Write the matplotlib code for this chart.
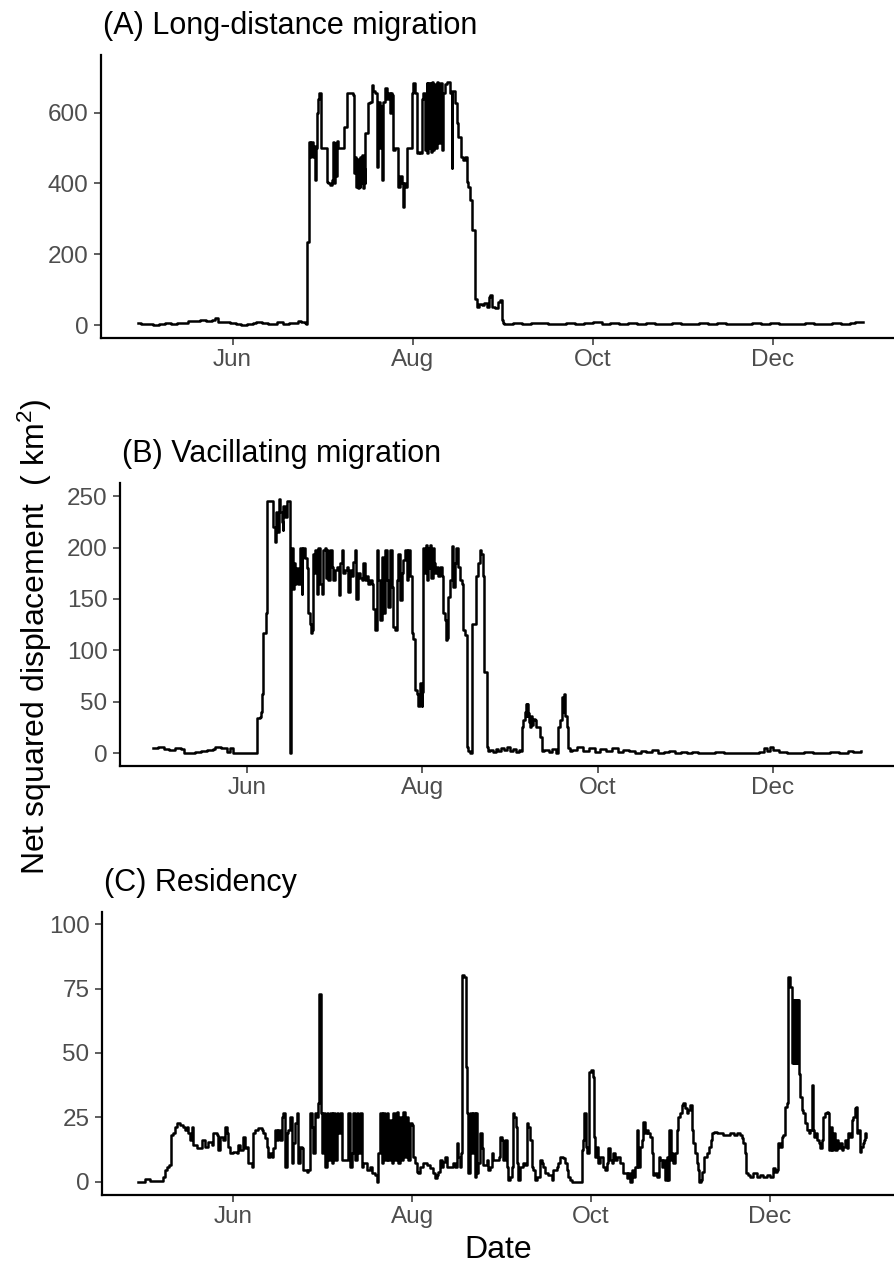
import numpy as np
import matplotlib
matplotlib.use("Agg")
import matplotlib.pyplot as plt
import matplotlib.dates as mdates

plt.rcParams['font.family'] = ['Liberation Sans', 'DejaVu Sans']
plt.rcParams['mathtext.fontset'] = 'custom'
plt.rcParams['mathtext.rm'] = 'Liberation Sans'
plt.rcParams['mathtext.default'] = 'regular'

# ---------------- data (days since 1 June, value in km^2) ----------------
a_days = [-32, -31, -29, -27, -25, -23, -21, -19, -17, -15, -13, -11, -9, -7, -6, -5, -3, -1, 1, 3, 5, 7, 8, 10, 12, 14, 15, 17, 19, 21, 22, 23, 24.5, 25.0,
          25.1, 25.8, 25.9, 26.3, 26.7, 27.1, 27.5, 27.9, 28.1, 28.5, 29.0, 29.4, 29.6, 29.9, 30.6, 31.3, 31.8, 32.4, 33.0, 33.5, 34.1, 34.4, 34.7, 35.0, 35.2,
          35.8, 36.9, 37.8, 38.6, 39.2, 40.9, 41.2, 41.5, 41.8, 42.1, 42.4, 42.7, 43.0, 43.3, 43.6, 43.9, 44.2, 44.5, 44.8, 45.0, 45.7, 46.5, 47.1, 47.5,
          48.2, 48.8, 49.1, 49.4, 49.8, 50.1, 50.5, 50.8, 51.0, 51.6, 52.2, 52.7, 53.2, 53.5, 53.9, 54.4, 55.0, 55.6, 56.1, 56.7, 57.3, 57.8, 58.1, 58.4,
          59.0, 60.1, 60.6, 61.2, 61.8, 62.3, 63.0, 63.5, 64.0, 64.6, 65.2, 65.7, 66.0, 66.3, 66.6, 66.9, 67.2, 67.5, 67.8, 68.1, 68.5, 69.1, 69.7, 70.2,
          70.8, 71.4, 72.0, 72.5, 73.1, 73.6, 74.2, 74.4, 75.3, 75.9, 76.5, 77.3, 78.2, 78.7, 79.3, 79.8, 80.4, 81.0, 81.2, 82.0, 82.1, 82.7, 83.5, 84.4,
          85.3, 86.1, 86.7, 87.2, 87.8, 88.9, 90.0, 90.6, 91.1, 91.7,
          92, 95, 98, 101, 104, 107, 110, 113, 116, 119, 122, 125, 128, 131, 134, 137, 140, 143, 146, 149, 152, 155, 158, 161, 164, 167, 170, 173, 176,
          179, 182, 185, 188, 191, 194, 197, 200, 203, 206, 209, 211, 213.5]
a_vals = [6, 4, 2, 1, 3, 5, 4, 6, 5, 11, 12, 13, 12, 15, 20, 10, 8, 6, 3, 0, 2, 6, 10, 5, 2, 4, 9, 3, 5, 6, 12, 9, 5, 3,
          235, 287, 518, 476, 518, 476, 505, 410, 500, 598, 640, 655, 655, 500, 500, 500, 405, 400, 395, 410, 518, 400, 515, 420, 520,
          500, 500, 560, 655, 655, 650, 429, 476, 391, 470, 386, 460, 390, 476, 400, 480, 386, 440, 400, 542, 626, 631, 678, 660,
          655, 447, 600, 631, 500, 620, 410, 600, 631, 669, 640, 655, 600, 655, 650, 495, 500, 500, 391, 420, 400, 334, 400, 391,
          500, 500, 655, 683, 655, 485, 490, 485, 640, 655, 495, 683, 485, 683, 500, 685, 490, 688, 495, 680, 500, 688, 513, 683,
          495, 655, 680, 688, 688, 655, 443, 660, 626, 570, 532, 476, 466, 476, 405, 391, 353, 353, 269, 269, 75, 52, 60, 56,
          62, 52, 80, 85, 52, 47, 65, 71, 14, 5,
          3, 6, 2, 5, 7, 3, 4, 6, 2, 5, 8, 4, 6, 3, 5, 2, 6, 4, 3, 5, 2, 4, 6, 3, 5, 2, 4, 3, 6,
          2, 5, 3, 4, 2, 5, 3, 4, 6, 3, 5, 8, 10]

b_days = [-32.6, -31, -29, -27, -25, -23, -22, -20, -18, -16, -14, -12, -11, -9, -7, -6, -5, -4.8, 3.0, 3.4, 3.5, 4.5, 5.0, 5.1, 5.6, 5.7, 6.6, 6.8,
          7.8, 8.8, 9.2, 9.6, 10.0, 10.3, 11.2, 11.6, 12.1, 12.4, 12.6, 13.2, 13.8, 14.4, 15.0, 15.2,
          15.5, 16.0, 16.3, 16.7, 17.2, 17.9, 18.4, 19.0, 19.3, 19.6, 20.2, 20.8, 21.3, 21.9, 22.2, 22.5, 22.9, 23.3, 23.7, 24.2, 24.8, 25.4, 26.0,
          26.6, 27.1, 27.4, 27.7, 28.3, 28.9, 29.5, 30.0, 30.6, 31.2, 32.0, 32.4, 32.9, 33.5, 34.1, 34.7, 35.3, 35.8, 36.4, 37.0, 37.6, 37.9, 38.7,
          39.3, 39.9, 40.5, 41.1, 41.6, 42.2, 42.8, 43.4, 44.0, 44.5, 45.1, 45.7, 46.3, 46.9, 47.4, 48.0, 48.6, 49.2, 49.8, 50.3, 50.9, 51.5, 52.1,
          52.7, 53.2, 53.8, 54.4, 55.0, 55.6, 56.1, 56.7, 57.3, 57.9, 58.5, 59.0, 59.6, 60.2, 60.8, 61.0, 61.4,
          61.8, 62.2, 62.6, 63.0, 63.4, 63.8, 64.2, 64.6, 65.0, 65.5, 66.0, 66.5, 67.2, 67.7, 68.3, 68.9, 69.2, 69.7, 70.0, 70.6, 71.2, 71.8, 72.4,
          72.9, 73.5, 74.1, 74.7, 75.3, 75.8, 76.4, 77.0, 77.6, 78.2, 78.4, 79.3, 79.7, 80.5, 81.1, 81.6, 82.2, 82.4, 83.2, 83.4, 84.0,
          84.5, 85.5, 86.5, 87.5, 88.5, 89.5, 90.5, 91.5, 92.5, 93.5, 94.5, 95.0, 95.6, 96.1, 96.7, 97.0, 97.3, 97.6, 97.9, 98.2, 98.5, 99.0, 99.3,
          99.6, 100.2, 100.5, 100.8, 101.9, 102.5, 103.5, 105, 106, 107.7, 108.3, 108.9, 109.5, 110.0, 110.3, 110.6, 111.2, 111.8, 112.5,
          113, 115, 117, 119, 121, 123, 125, 127, 129, 131, 133, 135, 137, 139, 141, 143, 145, 147, 149, 151, 153, 155, 157, 160, 163, 166, 169,
          172, 175, 178, 180, 181, 182, 183, 185, 188, 191, 194, 197, 200, 203, 206, 209, 211, 213.5]
b_vals = [5, 6, 4, 3, 5, 4, 0.5, 0.5, 1, 2, 3, 4, 6, 5, 1.5, 5, 3, 0, 0, 3, 34, 35, 40, 58, 58, 117, 136, 245,
          245, 245, 220, 205, 235, 215, 247, 235, 225, 217, 240, 230, 245, 245, 0, 200,
          200, 160, 185, 165, 180, 165, 200, 155, 190, 200, 190, 180, 136, 126, 117, 120, 194, 175, 198, 155, 200, 165, 155,
          198, 200, 170, 198, 168, 198, 181, 168, 178, 181, 154, 185, 198, 175, 178, 181, 157, 178, 172, 186, 198, 150, 175,
          170, 168, 185, 168, 172, 165, 168, 165, 140, 120, 198, 168, 130, 191, 136, 198, 168, 142, 198, 162, 123, 120, 168,
          194, 149, 175, 188, 198, 168, 198, 172, 117, 111, 62, 58, 46, 68, 46, 60, 200,
          175, 202, 168, 200, 180, 202, 170, 200, 185, 175, 181, 172, 181, 172, 136, 130, 110, 112, 152, 168, 201, 162, 185,
          200, 181, 168, 165, 120, 115, 6, 2, 0, 0, 126, 126, 172, 185, 198, 194, 172, 79, 79, 6, 2,
          3, 1, 4, 2, 5, 3, 6, 2, 4, 1, 3, 2, 26, 32, 40, 48, 36, 48, 39, 30, 26, 36, 28,
          33, 32, 26, 26, 16, 2, 3, 1, 4, 0, 26, 32, 55, 40, 58, 36, 26, 5, 2,
          3, 6, 2, 5, 1, 4, 2, 5, 1, 3, 2, 0, 2, 1, 3, 0, 1, 2, 0, 1, 0, 1, 0, 0, 1, 0, 0,
          0, 0, 1, 5, 2, 6, 3, 1, 0, 0, 1, 0, 0, 1, 0, 2, 1, 2]

c_days = [-32.4, -31.3, -30.1, -29.6, -28.4, -26.2, -24.5, -23.9, -23.3, -22.7, -21.8, -21.3, -20.5, -19.9, -19.3, -18.2, -17.1, -16.5, -15.9,
          -15.4, -14.8, -14.2, -13.7, -12.5, -11.4, -10.8, -9.7, -8.5, -7.4, -6.8, -5.7, -5.1, -4.5, -3.4, -2.8, -2.3, -1.7, -1.1, 0.0, 1.1, 1.7,
          2.3, 3.4, 4.0, 4.6, 5.1, 6.3, 6.8, 7.4, 8.5, 9.7, 10.2, 10.8, 11.4, 11.9, 12.5, 13.1, 13.7, 14.2, 14.8, 15.4, 15.9, 16.5, 17.1, 17.6,
          18.2, 18.8, 19.3, 19.9, 20.5, 21.1, 21.6, 22.2, 22.8, 23.3, 23.9, 25.0, 25.6, 26.2, 26.7, 27.3, 27.9, 28.5, 28.8, 29.1, 29.6, 29.8, 30.2,
          30.7, 31.3, 31.9, 32.4, 33.0, 33.6, 34.1, 34.7, 35.3, 35.8, 36.4, 37.0, 38.7, 39.3, 39.8, 40.4, 41.0, 41.5, 42.1, 42.7, 43.2, 43.8, 44.4,
          45.5, 46.6, 47.2, 48.4, 48.9, 49.5, 50.1, 50.6, 51.2, 51.8, 52.3, 52.9, 53.5, 54.0, 54.6, 55.2, 55.8, 56.3, 56.9, 57.5, 58.0, 58.6, 59.2,
          59.7, 60.3, 60.9, 61.4, 62.0, 62.6, 63.2, 63.7, 64.9, 66.0, 67.1, 68.3, 68.8, 69.4, 70.0, 70.5, 71.1, 71.7, 72.3, 72.8, 74.0, 75.1, 75.7,
          76.2, 76.8, 77.4, 77.7, 78.2, 78.7, 79.4, 79.6, 80.2, 80.8, 81.4, 81.9, 82.5, 82.8, 83.3, 83.6, 84.2, 84.8, 85.3, 86.5, 87.0, 87.6, 88.2,
          88.7, 89.9, 90.5, 91.0, 91.6, 92.2, 92.7, 93.3, 93.9, 94.4, 95.0, 95.3, 95.8, 96.5, 96.9, 97.3, 97.8, 99.0, 99.6, 100.1, 100.7, 101.3,
          101.8, 102.4, 103.0, 103.5, 104.7, 105.2, 105.8, 106.4, 107.5, 108.7, 109.2, 110.4, 110.9, 111.5, 112.6, 113.2, 113.8, 114.3, 114.9,
          115.5, 116.6, 117.8, 118.3, 118.9, 119.5, 119.8, 120.3, 120.8, 121.4, 122.1, 122.9, 123.1, 123.5, 124.0, 124.6, 125.1, 126.3, 126.9,
          127.4, 128.0, 128.6, 129.1, 129.7, 130.3, 130.8, 132.0, 133.1, 134.3, 134.8, 135.4, 136.0, 136.5, 137.1, 137.7, 138.2, 138.8,
          139.4, 139.9, 140.5, 141.1, 141.6, 142.2, 142.8, 143.1, 143.9, 144.5, 145.1, 145.6, 146.2, 146.8, 147.3, 147.9, 148.5, 148.8, 149.3,
          149.8, 150.2, 150.7, 151.3, 151.9, 152.5, 153.0, 153.6, 154.2, 154.7, 155.3, 155.9, 156.4, 157.0, 157.6, 158.1, 158.7, 159.0, 159.5,
          160.1, 160.6, 161.2, 161.8, 162.3, 162.9, 163.5, 164.1, 165.0, 166.1, 167.2, 168.4, 169.5, 170.7, 171.8, 172.9, 173.5, 174.1, 174.6,
          175.0, 175.8, 176.3, 177.5, 178.6, 179.8, 180.9, 182.0, 183.2, 184.3, 184.9, 185.4, 186.0, 186.6, 187.2, 187.7, 188.3, 188.9, 189.2,
          190.0, 190.6, 190.8, 191.0, 191.2, 191.5, 191.7, 191.9, 192.1, 192.4, 192.6, 192.8, 192.9, 193.4, 194.0, 194.5, 195.1, 195.7, 196.3,
          196.8, 197.2, 197.4, 197.7, 198.2, 198.8, 199.1, 199.7, 200.2, 200.8, 201.4, 201.9, 202.5, 203.1, 203.4, 203.9, 204.4, 204.8, 205.4,
          205.9, 206.5, 207.1, 207.6, 208.2, 208.8, 209.3, 209.9, 210.5, 211.0, 211.6, 212.2, 212.5, 213.0, 213.3, 213.7, 214.2, 214.8, 215.3,
          215.7, 215.9]
c_vals = [0, 0, 0.9, 0.9, 0.3, 0.3, 0.3, 1.9, 4.5, 5.8, 6.4, 18.1, 18.8, 21.4, 22.9, 22, 21.4, 20.1, 21.4,
          18.8, 16.2, 21.4, 14.2, 12.9, 12.9, 16.2, 13.6, 15.5, 14.2, 18.8, 18.1, 12.3, 17.5, 16.2, 21.4, 18.8, 13.6, 11, 11.6, 11.2, 14.2,
          12.3, 17.5, 12.9, 13.6, 7.1, 5.8, 18.8, 20.1, 20.7, 20.1, 18.8, 16.8, 13.6, 9.7, 11, 9.7, 12.9, 20.1, 16.2, 20.1, 16.2, 25.2, 26.5, 5.8,
          18.8, 20.1, 25.2, 7.1, 14.9, 22.6, 26.5, 7.1, 13.6, 12.9, 4.5, 3.9, 4.5, 26.5, 21.4, 11, 26.5, 25.2, 30.4, 73.1, 73.1, 26.5, 11,
          26.5, 5.8, 26.5, 8.4, 26.5, 7.1, 26.5, 8.4, 26.5, 18.8, 26.5, 8.4, 8.4, 26.5, 5.8, 11, 26.5, 8.4, 26.5, 11, 26.5, 5.8, 7.1,
          4.5, 5.8, 3.2, 2.6, 0, 11, 26.5, 7.1, 26.5, 8.4, 26.5, 8.4, 23.9, 7.1, 26.5, 8.4, 27.2, 7.1, 25.2, 8.4, 27.2, 9.7, 25.2,
          8.4, 22.6, 22, 9.7, 7.1, 3.9, 3.2, 5.8, 7.1, 6.4, 5.2, 3.2, 1.3, 2.6, 3.9, 8.4, 5.8, 7.7, 9.7, 5.8, 5.8, 7.1, 5.8,
          14.9, 9.7, 5.8, 11, 80.3, 79.6, 44.7, 26.5, 3.2, 26.5, 11, 26.5, 1.9, 26.5, 3.2, 7.1, 18.8, 12.9, 6.4, 8.4, 4.5, 5.8, 11,
          8.4, 8.4, 9.7, 17.5, 16.2, 8.4, 16.2, 5.8, 0.6, 1.9, 5.8, 26.5, 25.2, 21.4, 7.1, 0.6, 5.8, 7.1, 6.4, 22.6, 21.4, 16.2,
          5.8, 4.5, 0.6, 1.9, 8.4, 7.1, 5.8, 3.2, 2.6, 0.6, 4.5, 5.8, 7.1, 9.7, 9.0, 7.1, 4.5, 1.9, 0.6,
          0, 0, 0, 0, 12.3, 16.2, 26.5, 13.6, 11, 42.7, 43.4, 40.8, 17.5, 9.7, 13.6, 7.1, 9.7, 5.8, 4.5,
          7.1, 12.9, 8.4, 7.1, 11, 8.4, 9.7, 7.1, 3.2, 1.3, 3.2, 0, 4.5, 1.9, 5.8, 20.1, 5.8, 13.6,
          16.2, 23.3, 18.8, 20.1, 18.8, 17.5, 11, 2.6, 3.2, 1.9, 9.7, 8.4, 5.8, 8.4, 0.6, 9.7, 0.6, 20.1, 8.4,
          11, 7.1, 11, 20.1, 25.2, 26.5, 29.8, 30.4, 28.5, 26.5, 27.8, 29.8, 20.1, 14.9, 11, 7.1, 4.5, 0, 0.6,
          3.9, 9.7, 9.7, 11, 13.6, 16.2, 18.8, 19.4, 18.8, 19, 18.1, 18.1, 18.8, 18.1, 18.8, 18.1, 16.8, 14.9, 11,
          3.2, 2.6, 1.9, 3.2, 1.9, 2.6, 1.9, 2.6, 1.9, 5.2, 3.9, 4.5, 14.9, 13.6, 17.5, 18.1, 29.1, 30.4, 79.6,
          75.7, 70.5, 46, 70.5, 46, 70.5, 46, 70.5, 46, 70.5, 46, 70.5, 42, 33, 27.8, 26.5, 22.6, 20.1, 18.8,
          20.1, 20.1, 37.5, 20.1, 17.5, 18.8, 16.2, 14.9, 12.9, 16.2, 25.2, 26.5, 27.2, 26.5, 12.3, 21.4, 12.3, 18.8, 12.3,
          16.2, 12.9, 14.9, 12.3, 13.6, 16.2, 12.9, 18.8, 17.5, 23.9, 25.2, 28.5, 29.1, 18.8, 20.1, 11.6, 13.6, 14.9, 16.2,
          18.8, 17.5]

titles = ["(A) Long-distance migration", "(B) Vacillating migration", "(C) Residency"]
a_ticks = [0, 200, 400, 600]
b_ticks = [0, 50, 100, 150, 200, 250]
c_ticks = [0, 25, 50, 75, 100]
month_ticks = ["Jun", "Aug", "Oct", "Dec"]
y_label = "Net squared displacement  ( km$^2$)"
x_label = "Date"

# ---------------- layout ----------------
W, H = 895, 1266
fig = plt.figure(figsize=(W / 100, H / 100), dpi=100)
base = np.datetime64('2019-06-01T00:00')


def to_dates(days):
    return base + (np.array(days) * 1440).round().astype('timedelta64[m]')


def day_num(d):
    return mdates.date2num(base + np.timedelta64(int(round(d * 1440)), 'm'))


panels = [
    # left, right, top, bottom (px), xlim(days), ylim, data, ticks
    (101, 895, 55, 338, (-44.6, 224.4), (-36.5, 763), a_days, a_vals, a_ticks),
    (120, 895, 483, 766, (-44.2, 225.5), (-12.3, 262.7), b_days, b_vals, b_ticks),
    (102, 895, 912, 1195, (-44.8, 225.8), (-5.2, 104.8), c_days, c_vals, c_ticks),
]
ink = "#4D4D4D"
for i, (l, r, t, b, xl, yl, dd, vv, tk) in enumerate(panels):
    ax = fig.add_axes([l / W, 1 - b / H, (r - l) / W, (b - t) / H])
    ax.plot(to_dates(dd), vv, color='black', lw=1.8, drawstyle='steps-post')
    ax.set_xlim(day_num(xl[0]), day_num(xl[1]))
    ax.set_ylim(*yl)
    ax.set_yticks(tk)
    ax.xaxis.set_major_locator(mdates.MonthLocator(bymonth=[6, 8, 10, 12]))
    ax.xaxis.set_major_formatter(mdates.DateFormatter('%b'))
    for s in ['top', 'right']:
        ax.spines[s].set_visible(False)
    for s in ['left', 'bottom']:
        ax.spines[s].set_linewidth(1.6)
        ax.spines[s].set_color('black')
    ax.tick_params(axis='both', length=5, width=1.1, color='#333333', labelcolor=ink, labelsize=17.5)
    ax.tick_params(axis='y', pad=4)
    ax.tick_params(axis='x', pad=3)
    fig.text(l / W + 2 / W, 1 - (t - 21) / H, titles[i], fontsize=22, ha='left', va='baseline', color='black')

fig.text(35 / W, 1 - 637 / H, y_label, rotation=90, fontsize=23, ha='center', va='center', color='black')
fig.text(498 / W, 1 - 1250 / H, x_label, fontsize=23, ha='center', va='center', color='black')

fig.savefig("out.png", dpi=100, facecolor='white')
